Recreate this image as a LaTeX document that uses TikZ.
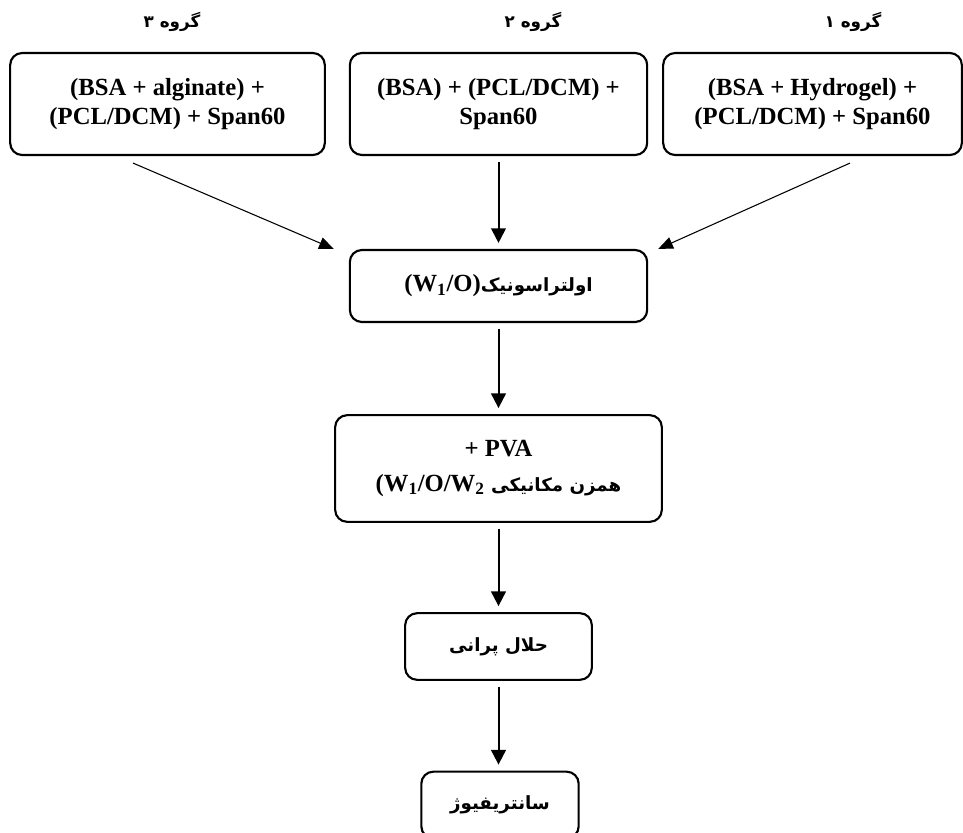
\documentclass[tikz,border=0pt]{standalone}
\usepackage{fontspec}
\setmainfont{Liberation Serif}
\newfontfamily\farsi[Script=Arabic,Scale=0.74]{DejaVu Sans}
\TeXXeTstate=1
\usetikzlibrary{arrows.meta,calc}
\newcommand{\fa}[1]{{\farsi\beginR #1\endR}}
\newcommand{\ltr}[1]{\beginL #1\endL}

\begin{document}
\begin{tikzpicture}[x=0.75pt,y=-0.75pt,
    box/.style={draw,line width=1.6pt,rounded corners=9pt,align=center,inner sep=0pt,
      font=\bfseries\fontsize{18.5}{22}\selectfont},
    grp/.style={font=\bfseries\fontsize{17}{20}\selectfont},
    flow/.style={-{Triangle[length=11pt,width=11pt]},line width=1.5pt,shorten <=4.5pt,shorten >=4.5pt},
    side/.style={-{Triangle[length=11pt,width=9pt]},line width=0.8pt}]
  \useasboundingbox (0,0) rectangle (963,832);
  \node[grp] (l3) at (172,22) {\fa{گروه ۳}};
  \node[grp] (l2) at (533,22) {\fa{گروه ۲}};
  \node[grp] (l1) at (853,22) {\fa{گروه ۱}};
  \node[box,minimum width=236pt,minimum height=76.5pt] (g3) at (167.5,104)
    {(BSA + alginate) +\\(PCL/DCM) + Span60};
  \node[box,minimum width=223pt,minimum height=76.5pt] (g2) at (498.5,104)
    {(BSA) + (PCL/DCM) +\\Span60};
  \node[box,minimum width=224pt,minimum height=76.5pt] (g1) at (812.5,104)
    {(BSA + Hydrogel) +\\(PCL/DCM) + Span60};
  \node[box,minimum width=223pt,minimum height=54pt] (ultra) at (498.5,286)
    {\fa{اولتراسونیک\ltr{{\rmfamily(W\textsubscript{1}/O)}}}};
  \node[box,minimum width=245pt,minimum height=80pt] (pva) at (498.5,468.5)
    {+ PVA\\[4pt]\fa{همزن مکانیکی \ltr{{\rmfamily(W\textsubscript{1}/O/W\textsubscript{2}}}}};
  \node[box,minimum width=140pt,minimum height=50pt] (solv) at (498.5,646.5) {\fa{حلال پرانی}};
  \node[box,minimum width=118pt,minimum height=50pt] (cent) at (500,805) {\fa{سانتریفیوژ}};
  \draw[side] ($(g3.south)+(-34.5,7)$) -- ($(ultra.north west)+(-15,0)$);
  \draw[side] ($(g1.south)+(37.5,7)$) -- ($(ultra.north east)+(10,0)$);
  \draw[flow] (g2) -- (ultra);
  \draw[flow] (ultra) -- (pva);
  \draw[flow] (pva) -- (solv);
  \draw[flow] (solv) -- (solv|-cent.north);
\end{tikzpicture}
\end{document}
